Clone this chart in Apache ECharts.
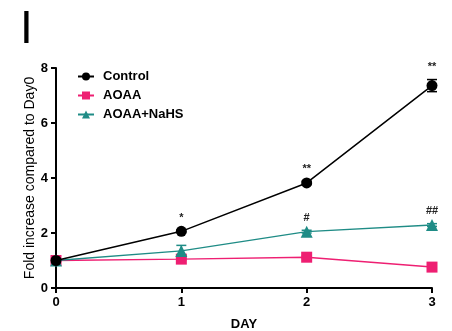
<!DOCTYPE html>
<html><head><meta charset="utf-8">
<script src="https://cdn.jsdelivr.net/npm/echarts@6/dist/echarts.min.js"></script>
<style>html,body{margin:0;padding:0;background:#fff}#c{width:452px;height:331px}</style>
</head><body><div id="c"></div>
<script>
var days = [0, 1, 2, 3];
var xTicks = ['0', '1', '2', '3'];
var yTicks = [0, 2, 4, 6, 8];
var controlVals = [1.0, 2.06, 3.82, 7.36];
var controlErr = [0.03, 0.05, 0.06, 0.22];
var controlMarks = ['', '*', '**', '**'];
var aoaaVals = [1.0, 1.05, 1.12, 0.76];
var aoaaErr = [0.03, 0.04, 0.05, 0.04];
var aoaaMarks = ['', '', '', ''];
var nahsVals = [1.0, 1.35, 2.05, 2.29];
var nahsErr = [0.03, 0.2, 0.05, 0.05];
var nahsMarks = ['', '', '#', '##'];

var FONT = 'Liberation Sans';
var colors = {Control: '#000000', AOAA: '#ee1f72', 'AOAA+NaHS': '#1f8c86'};

function pairs(v){ return days.map(function(d,i){ return [d, v[i]]; }); }
function errSeries(name, vals, errs, marks, color){
  return {
    type: 'custom', name: name + '_err', silent: true, z: 1,
    data: days.map(function(d,i){ return [d, vals[i], errs[i]]; }),
    renderItem: function(params, api){
      var x = api.value(0), y = api.value(1), e = api.value(2);
      var m = marks[params.dataIndex];
      var top = api.coord([x, y + e]);
      var bot = api.coord([x, y - e]);
      var children = [
        {type:'line', shape:{x1:top[0],y1:top[1],x2:bot[0],y2:bot[1]}, style:{stroke:color,lineWidth:1.5}},
        {type:'line', shape:{x1:top[0]-5,y1:top[1],x2:top[0]+5,y2:top[1]}, style:{stroke:color,lineWidth:1.5}},
        {type:'line', shape:{x1:bot[0]-5,y1:bot[1],x2:bot[0]+5,y2:bot[1]}, style:{stroke:color,lineWidth:1.5}}
      ];
      if (m) {
        children.push({type:'text', style:{text:m, x:top[0], y:top[1]-7, align:'center', verticalAlign:'bottom',
          font:'bold 11px "' + FONT + '"', fill:'#222'}});
      }
      return {type:'group', children: children};
    }
  };
}

var option = {
  animation: false,
  title: {text: 'I', left: 15, top: 2, textStyle: {fontFamily: FONT, fontSize: 46, fontWeight: 'normal', color: '#000'}},
  legend: {
    data: ['Control', 'AOAA', 'AOAA+NaHS'], orient: 'vertical', left: 72, top: 65,
    itemWidth: 16, itemHeight: 10, itemGap: 6,
    textStyle: {fontFamily: FONT, fontWeight: 'bold', fontSize: 13, color: '#000', padding: [0, 0, 0, 4]}
  },
  grid: {left: 56, right: 20, top: 68, bottom: 43, outerBoundsMode: 'none', containLabel: false},
  xAxis: {
    type: 'value', min: 0, max: 3, interval: 1,
    name: 'DAY', nameLocation: 'middle', nameGap: 30,
    nameTextStyle: {fontFamily: FONT, fontWeight: 'bold', fontSize: 13, color: '#000'},
    axisLine: {lineStyle: {color: '#000', width: 2}},
    axisTick: {show: true, length: 5, lineStyle: {color: '#000', width: 2}},
    axisLabel: {fontFamily: FONT, fontWeight: 'bold', fontSize: 13, color: '#000', margin: 8,
      formatter: function(v){ return xTicks[v]; }},
    splitLine: {show: false}
  },
  yAxis: {
    type: 'value', min: 0, max: 8, interval: 2,
    name: 'Fold increase compared to Day0', nameLocation: 'middle', nameGap: 19, nameMoveOverlap: false,
    nameTextStyle: {fontFamily: FONT, fontSize: 14, color: '#000'},
    axisLine: {show: true, lineStyle: {color: '#000', width: 2}},
    axisTick: {show: true, length: 5, lineStyle: {color: '#000', width: 2}},
    axisLabel: {fontFamily: FONT, fontWeight: 'bold', fontSize: 13, color: '#000', margin: 8,
      formatter: function(v){ return yTicks.indexOf(v) >= 0 ? String(v) : ''; }},
    splitLine: {show: false}
  },
  series: [
    errSeries('AOAA', aoaaVals, aoaaErr, aoaaMarks, colors.AOAA),
    errSeries('AOAA+NaHS', nahsVals, nahsErr, nahsMarks, colors['AOAA+NaHS']),
    errSeries('Control', controlVals, controlErr, controlMarks, colors.Control),
    {name: 'AOAA', type: 'line', data: pairs(aoaaVals), symbol: 'rect', symbolSize: 11, z: 3,
      color: colors.AOAA, lineStyle: {color: colors.AOAA, width: 1.5}, itemStyle: {color: colors.AOAA}},
    {name: 'AOAA+NaHS', type: 'line', data: pairs(nahsVals), symbol: 'triangle', symbolSize: 12, z: 4,
      color: colors['AOAA+NaHS'], lineStyle: {color: colors['AOAA+NaHS'], width: 1.5}, itemStyle: {color: colors['AOAA+NaHS']}},
    {name: 'Control', type: 'line', data: pairs(controlVals), symbol: 'circle', symbolSize: 11, z: 5,
      color: colors.Control, lineStyle: {color: colors.Control, width: 1.5}, itemStyle: {color: colors.Control}}
  ]
};
var chart = echarts.init(document.getElementById('c'), null, {renderer: 'canvas'});
chart.setOption(option);
</script>
</body></html>
